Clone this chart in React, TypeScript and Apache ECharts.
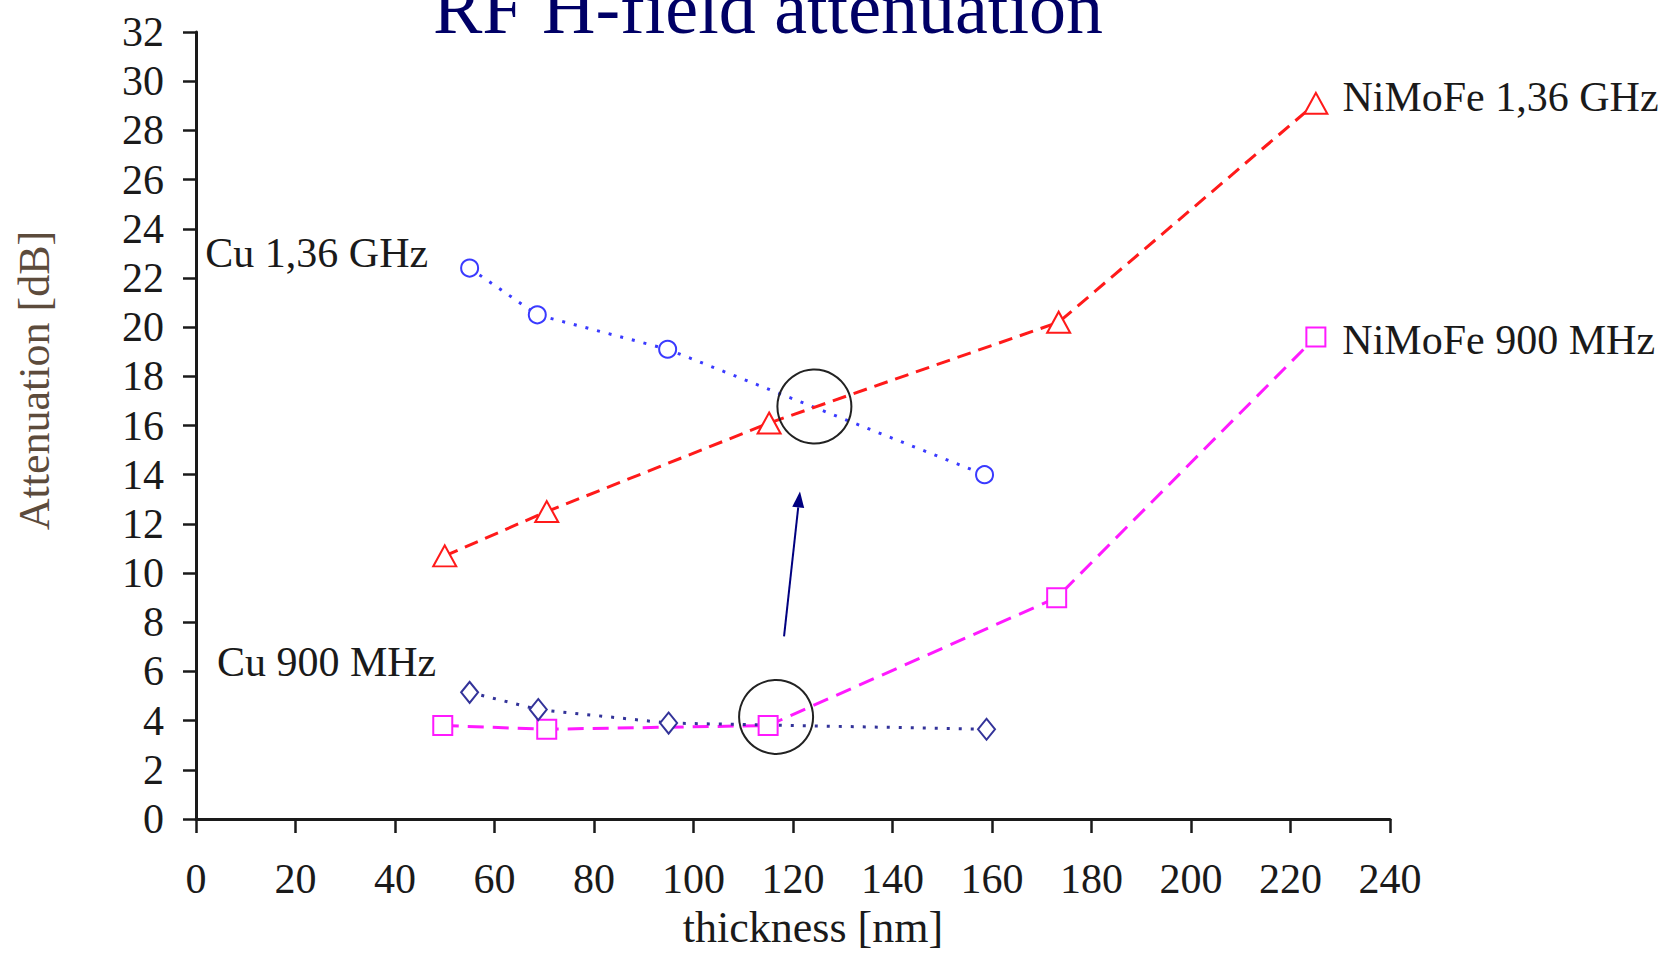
import React, { useEffect, useRef } from "react";
import * as echarts from "echarts";

// ---- data ----
const cu136X = [55, 68.6, 94.8, 158.5];
const cu136Y = [22.4, 20.5, 19.1, 14.0];
const nimo136X = [50, 70.5, 115.2, 173.4, 225.1];
const nimo136Y = [10.7, 12.5, 16.1, 20.2, 29.1];
const nimo900X = [49.6, 70.5, 115.0, 173.0, 225.1];
const nimo900Y = [3.8, 3.65, 3.8, 9.0, 19.6];
const cu900X = [55, 68.8, 95, 158.9];
const cu900Y = [5.15, 4.45, 3.9, 3.65];

const seriesNames = ["Cu 1,36 GHz", "NiMoFe 1,36 GHz", "NiMoFe 900 MHz", "Cu 900 MHz"];
const titleText = "RF H-field attenuation";
const xName = "thickness [nm]";
const yName = "Attenuation [dB]";

// annotation positions in data coordinates
const circleCenters = [
  [124.3, 16.77],
  [116.6, 4.15],
];
const arrowTail = [118.2, 7.43];
const arrowTip = [121.4, 13.32];

const FONT = '"Liberation Serif", "Times New Roman", serif';

function pts(xs: number[], ys: number[]) {
  return xs.map((x, i) => [x, ys[i]]);
}

export default function App() {
  const ref = useRef<HTMLDivElement>(null);
  useEffect(() => {
    const chart = echarts.init(ref.current!, null, { renderer: "svg" });
    const labelStyle = { fontFamily: FONT, fontSize: 42, color: "#1a1a1a" };

    const withLabel = (data: number[][], idx: number, label: any) =>
      data.map((d, i) =>
        i === idx ? { value: d, label: { show: true, formatter: "{a}", ...labelStyle, ...label } } : { value: d }
      );

    const option: any = {
      animation: false,
      backgroundColor: "#ffffff",
      grid: { left: 196, right: 271, top: 32, bottom: 133 },
      xAxis: {
        type: "value",
        min: 0,
        max: 240,
        interval: 20,
        name: xName,
        nameLocation: "middle",
        nameGap: 86,
        nameTextStyle: { fontFamily: FONT, fontSize: 44, color: "#1a1a1a", padding: [0, 0, 0, 40] },
        axisLine: { show: true, lineStyle: { color: "#1a1a1a", width: 3 } },
        axisTick: { show: true, length: 14, lineStyle: { color: "#1a1a1a", width: 2.5 } },
        axisLabel: { fontFamily: FONT, fontSize: 42, color: "#1a1a1a", margin: 39 },
        splitLine: { show: false },
      },
      yAxis: {
        type: "value",
        min: 0,
        max: 32,
        interval: 2,
        name: yName,
        nameLocation: "middle",
        nameGap: 140,
        nameRotate: 90,
        nameTextStyle: { fontFamily: FONT, fontSize: 44, color: "#5c4b3c", padding: [0, 0, 0, 90] },
        axisLine: { show: true, lineStyle: { color: "#1a1a1a", width: 3 } },
        axisTick: { show: true, length: 13, lineStyle: { color: "#1a1a1a", width: 2.5 } },
        axisLabel: { fontFamily: FONT, fontSize: 42, color: "#1a1a1a", margin: 32 },
        splitLine: { show: false },
      },
      series: [
        {
          name: seriesNames[0],
          type: "line",
          data: withLabel(pts(cu136X, cu136Y), 0, { position: "left", distance: 32, offset: [0, -15] }),
          symbol: "emptyCircle",
          symbolSize: 17,
          itemStyle: { color: "#3a3aff", borderWidth: 2.5 },
          lineStyle: { color: "#3a3aff", width: 3, type: [3, 9] },
          z: 3,
        },
        {
          name: seriesNames[1],
          type: "line",
          data: withLabel(pts(nimo136X, nimo136Y), 4, { position: "right", distance: 14, offset: [0, -6] }),
          symbol: "emptyTriangle",
          symbolSize: [23, 21],
          itemStyle: { color: "#ff1a1a", borderWidth: 2.5 },
          lineStyle: { color: "#ff1a1a", width: 3, type: [14, 8] },
          z: 3,
        },
        {
          name: seriesNames[2],
          type: "line",
          data: withLabel(pts(nimo900X, nimo900Y), 4, { position: "right", distance: 16, offset: [0, 3] }),
          symbol: "emptyRect",
          symbolSize: 19,
          itemStyle: { color: "#ff1aff", borderWidth: 2.5 },
          lineStyle: { color: "#ff1aff", width: 3, type: [16, 9] },
          z: 3,
        },
        {
          name: seriesNames[3],
          type: "line",
          data: withLabel(pts(cu900X, cu900Y), 0, { position: "left", distance: 24, offset: [0, -30] }),
          symbol: "emptyDiamond",
          symbolSize: [17, 21],
          itemStyle: { color: "#333399", borderWidth: 2.5 },
          lineStyle: { color: "#333399", width: 3, type: [3, 9] },
          z: 3,
        },
      ],
    };
    chart.setOption(option);

    const px = (p: number[]) => chart.convertToPixel({ gridIndex: 0 }, p) as number[];
    const circles = circleCenters.map((c) => {
      const [cx, cy] = px(c);
      return {
        type: "circle",
        shape: { cx, cy, r: 37 },
        style: { fill: "none", stroke: "#222222", lineWidth: 2 },
        z: 10,
      };
    });
    const [tx, ty] = px(arrowTail);
    const [hx, hy] = px(arrowTip);
    const ang = Math.atan2(hy - ty, hx - tx);
    const headLen = 16;
    const headW = 6;
    const bx = hx - headLen * Math.cos(ang);
    const by = hy - headLen * Math.sin(ang);
    const nx = -Math.sin(ang);
    const ny = Math.cos(ang);

    chart.setOption({
      graphic: [
        {
          type: "text",
          x: 768,
          y: 8,
          style: {
            text: titleText,
            font: `74px ${FONT}`,
            fill: "#000066",
            align: "center",
            verticalAlign: "middle",
          },
          z: 10,
        },
        ...circles,
        {
          type: "line",
          shape: { x1: tx, y1: ty, x2: bx, y2: by },
          style: { stroke: "#000080", lineWidth: 2 },
          z: 10,
        },
        {
          type: "polygon",
          shape: {
            points: [
              [hx, hy],
              [bx + nx * headW, by + ny * headW],
              [bx - nx * headW, by - ny * headW],
            ],
          },
          style: { fill: "#000080" },
          z: 10,
        },
      ],
    });

    return () => chart.dispose();
  }, []);

  return (
    <div
      ref={ref}
      style={{ position: "fixed", left: 0, top: 0, width: 1661, height: 954, background: "#fff" }}
    />
  );
}
